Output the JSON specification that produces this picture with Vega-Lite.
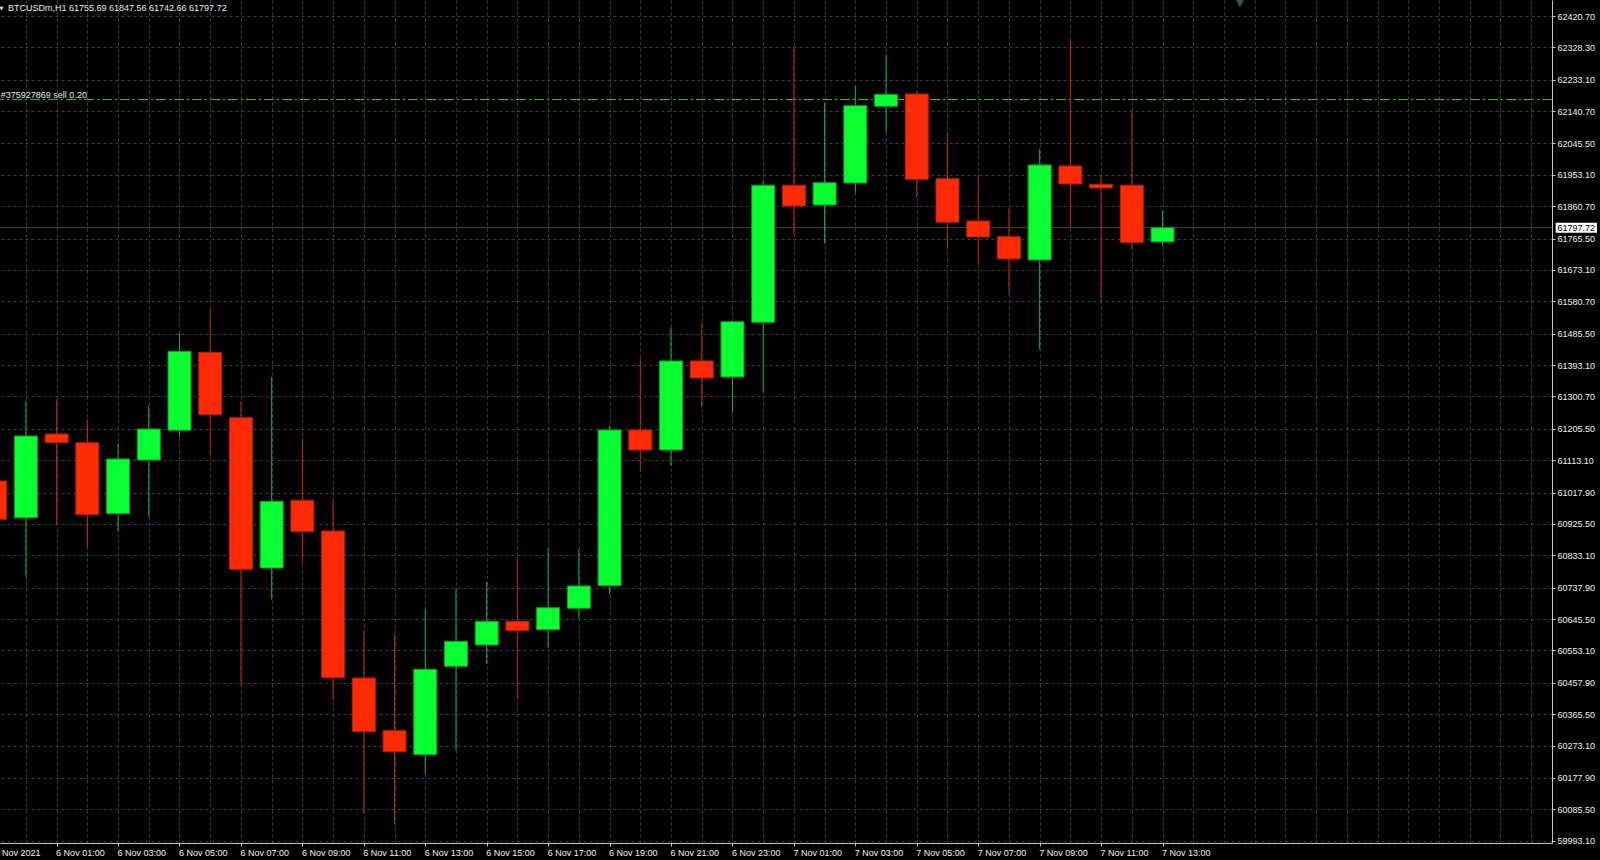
{
  "$schema": "https://vega.github.io/schema/vega-lite/v6.json",
  "width": 1552,
  "height": 843,
  "autosize": {"type": "none"},
  "padding": {"left": 0, "top": 0, "right": 48, "bottom": 17},
  "background": "#000000",
  "config": {"view": {"stroke": null}, "font": "Liberation Sans", "text": {"font": "Liberation Sans"}},
  "data": {
    "format": {"parse": {"time": "utc:'%Y-%m-%d %H:%M'"}},
    "values": [
      {"time": "2021-11-05 23:00", "open": 61051.9, "high": 61084.3, "low": 60907.7, "close": 60939.2},
      {"time": "2021-11-06 00:00", "open": 60943.9, "high": 61288.3, "low": 60768.5, "close": 61184.4},
      {"time": "2021-11-06 01:00", "open": 61190.3, "high": 61292.4, "low": 60922.4, "close": 61164.7},
      {"time": "2021-11-06 02:00", "open": 61164.7, "high": 61233.6, "low": 60856.8, "close": 60952.7},
      {"time": "2021-11-06 03:00", "open": 60955.7, "high": 61161.7, "low": 60903.9, "close": 61116.7},
      {"time": "2021-11-06 04:00", "open": 61113.7, "high": 61273.6, "low": 60946.8, "close": 61205.0},
      {"time": "2021-11-06 05:00", "open": 61201.2, "high": 61486.7, "low": 61181.5, "close": 61433.7},
      {"time": "2021-11-06 06:00", "open": 61430.8, "high": 61558.2, "low": 61126.4, "close": 61247.1},
      {"time": "2021-11-06 07:00", "open": 61238.3, "high": 61287.4, "low": 60449.4, "close": 60792.0},
      {"time": "2021-11-06 08:00", "open": 60795.8, "high": 61357.2, "low": 60703.7, "close": 60992.2},
      {"time": "2021-11-06 09:00", "open": 60995.1, "high": 61177.0, "low": 60809.1, "close": 60902.7},
      {"time": "2021-11-06 10:00", "open": 60904.8, "high": 60995.1, "low": 60408.2, "close": 60472.9},
      {"time": "2021-11-06 11:00", "open": 60472.0, "high": 60610.4, "low": 60073.8, "close": 60314.0},
      {"time": "2021-11-06 12:00", "open": 60316.9, "high": 60600.7, "low": 60042.3, "close": 60255.1},
      {"time": "2021-11-06 13:00", "open": 60246.3, "high": 60675.2, "low": 60189.5, "close": 60497.7},
      {"time": "2021-11-06 14:00", "open": 60506.5, "high": 60734.9, "low": 60258.0, "close": 60580.1},
      {"time": "2021-11-06 15:00", "open": 60569.2, "high": 60755.5, "low": 60514.1, "close": 60638.9},
      {"time": "2021-11-06 16:00", "open": 60638.9, "high": 60827.3, "low": 60410.2, "close": 60611.3},
      {"time": "2021-11-06 17:00", "open": 60614.2, "high": 60854.7, "low": 60560.3, "close": 60679.0},
      {"time": "2021-11-06 18:00", "open": 60677.2, "high": 60853.2, "low": 60646.6, "close": 60742.9},
      {"time": "2021-11-06 19:00", "open": 60743.7, "high": 61214.7, "low": 60719.3, "close": 61202.1},
      {"time": "2021-11-06 20:00", "open": 61202.1, "high": 61414.9, "low": 61079.3, "close": 61143.2},
      {"time": "2021-11-06 21:00", "open": 61143.2, "high": 61503.2, "low": 61096.1, "close": 61405.2},
      {"time": "2021-11-06 22:00", "open": 61405.2, "high": 61517.9, "low": 61269.8, "close": 61355.1},
      {"time": "2021-11-06 23:00", "open": 61358.1, "high": 61524.4, "low": 61253.0, "close": 61520.8},
      {"time": "2021-11-07 00:00", "open": 61519.1, "high": 61935.9, "low": 61313.0, "close": 61922.6},
      {"time": "2021-11-07 01:00", "open": 61922.4, "high": 62333.3, "low": 61776.1, "close": 61861.4},
      {"time": "2021-11-07 02:00", "open": 61864.4, "high": 62165.5, "low": 61751.6, "close": 61930.0},
      {"time": "2021-11-07 03:00", "open": 61929.1, "high": 62214.6, "low": 61900.6, "close": 62156.7},
      {"time": "2021-11-07 04:00", "open": 62154.9, "high": 62305.9, "low": 62076.3, "close": 62190.2},
      {"time": "2021-11-07 05:00", "open": 62191.1, "high": 62199.1, "low": 61885.9, "close": 61940.0},
      {"time": "2021-11-07 06:00", "open": 61941.8, "high": 62077.2, "low": 61738.7, "close": 61813.4},
      {"time": "2021-11-07 07:00", "open": 61817.3, "high": 61946.8, "low": 61689.8, "close": 61770.2},
      {"time": "2021-11-07 08:00", "open": 61771.1, "high": 61856.4, "low": 61599.4, "close": 61705.4},
      {"time": "2021-11-07 09:00", "open": 61702.5, "high": 62029.2, "low": 61439.6, "close": 61982.1},
      {"time": "2021-11-07 10:00", "open": 61979.2, "high": 62352.1, "low": 61800.5, "close": 61926.2},
      {"time": "2021-11-07 11:00", "open": 61925.3, "high": 61949.7, "low": 61581.8, "close": 61914.4},
      {"time": "2021-11-07 12:00", "open": 61922.4, "high": 62139.0, "low": 61735.7, "close": 61753.4},
      {"time": "2021-11-07 13:00", "open": 61755.69, "high": 61847.56, "low": 61742.66, "close": 61797.72}
    ]
  },
  "layer": [
    {
      "data": {"values": [{"price": 61797.72}]},
      "mark": {"type": "rule", "color": "#364b4b", "strokeWidth": 1},
      "encoding": {"y": {"field": "price", "type": "quantitative", "title": null, "scale": {"domain": [59986.3, 62467.8], "nice": false, "zero": false, "padding": 0}}}
    },
    {
      "data": {"values": [{"price": 62174.9}]},
      "mark": {"type": "rule", "color": "#28c028", "strokeWidth": 1, "strokeDash": [10, 3, 2, 3]},
      "encoding": {"y": {"field": "price", "type": "quantitative", "title": null, "scale": {"domain": [59986.3, 62467.8], "nice": false, "zero": false, "padding": 0}}}
    },
    {
      "mark": {"type": "rule", "strokeWidth": 1},
      "encoding": {
        "x": {
          "field": "time", "type": "temporal", "title": null,
          "scale": {"type": "utc", "padding": 0, "domain": [
            {"year": 2021, "month": 11, "date": 5, "hours": 23, "minutes": 9, "seconds": 25, "utc": true},
            {"year": 2021, "month": 11, "date": 8, "hours": 1, "minutes": 40, "seconds": 41, "utc": true}
          ]},
          "axis": {
            "orient": "bottom",
            "tickCount": 200,
            "values": [1636156800000, 1636160400000, 1636164000000, 1636167600000, 1636171200000, 1636174800000, 1636178400000, 1636182000000, 1636185600000, 1636189200000, 1636192800000, 1636196400000, 1636200000000, 1636203600000, 1636207200000, 1636210800000, 1636214400000, 1636218000000, 1636221600000, 1636225200000, 1636228800000, 1636232400000, 1636236000000, 1636239600000, 1636243200000, 1636246800000, 1636250400000, 1636254000000, 1636257600000, 1636261200000, 1636264800000, 1636268400000, 1636272000000, 1636275600000, 1636279200000, 1636282800000, 1636286400000, 1636290000000, 1636293600000, 1636297200000, 1636300800000, 1636304400000, 1636308000000, 1636311600000, 1636315200000, 1636318800000, 1636322400000, 1636326000000, 1636329600000, 1636333200000],
            "labelExpr": "time(datum.value) == 1636156800000 ? '5 Nov 2021' : (utchours(datum.value) % 2 == 1 && time(datum.value) <= 1636290000000 ? utcFormat(datum.value, '%-d %b %H:%M') : '')",
            "labelOffset": {"condition": {"test": "time(datum.value) == 1636156800000", "value": -32}, "value": -1},
            "grid": true, "gridColor": "#2f4848", "gridDash": [3, 3], "gridWidth": 1,
            "ticks": true, "tickSize": 3, "tickColor": "#c8c8c8",
            "tickOpacity": {"condition": {"test": "utchours(datum.value) % 2 == 1 && time(datum.value) <= 1636290000000", "value": 1}, "value": 0},
            "domain": true, "domainColor": "#c8c8c8", "domainWidth": 1,
            "labelColor": "#f0f0f0", "labelFont": "Liberation Sans", "labelFontSize": 9,
            "labelAlign": "left", "labelBaseline": "middle", "labelPadding": 6,
            "labelOverlap": false, "labelFlush": false, "labelBound": false, "title": null
          }
        },
        "y": {
          "field": "low", "type": "quantitative", "title": null,
          "scale": {"domain": [59986.3, 62467.8], "nice": false, "zero": false, "padding": 0},
          "axis": {
            "orient": "right",
            "tickCount": 200,
            "values": [62420.70, 62328.30, 62233.10, 62140.70, 62045.50, 61953.10, 61860.70, 61765.50, 61673.10, 61580.70, 61485.50, 61393.10, 61300.70, 61205.50, 61113.10, 61017.90, 60925.50, 60833.10, 60737.90, 60645.50, 60553.10, 60457.90, 60365.50, 60273.10, 60177.90, 60085.50, 59993.10],
            "format": ".2f",
            "grid": true, "gridColor": "#2f4848", "gridDash": [3, 3], "gridWidth": 1,
            "tickSize": 3, "tickColor": "#c8c8c8",
            "domain": true, "domainColor": "#c8c8c8", "domainWidth": 1,
            "labelColor": "#f0f0f0", "labelFont": "Liberation Sans", "labelFontSize": 9,
            "labelAlign": "left", "labelBaseline": "middle", "labelPadding": 2,
            "labelOverlap": false, "labelFlush": false, "labelBound": false, "title": null
          }
        },
        "y2": {"field": "high"},
        "color": {"condition": {"test": "datum.close >= datum.open", "value": "#14b82a"}, "value": "#d42208"}
      }
    },
    {
      "mark": {"type": "bar", "width": 23, "strokeWidth": 1},
      "encoding": {
        "x": {"field": "time", "type": "temporal", "title": null, "scale": {"type": "utc", "padding": 0, "domain": [
            {"year": 2021, "month": 11, "date": 5, "hours": 23, "minutes": 9, "seconds": 25, "utc": true},
            {"year": 2021, "month": 11, "date": 8, "hours": 1, "minutes": 40, "seconds": 41, "utc": true}
          ]}},
        "y": {"field": "open", "type": "quantitative", "title": null, "scale": {"domain": [59986.3, 62467.8], "nice": false, "zero": false, "padding": 0}},
        "y2": {"field": "close"},
        "fill": {"condition": {"test": "datum.close >= datum.open", "value": "#0aff32"}, "value": "#ff2a08"},
        "stroke": {"condition": {"test": "datum.close >= datum.open", "value": "#129a26"}, "value": "#b01e06"}
      }
    },
    {
      "data": {"format": {"parse": {"time": "utc:'%Y-%m-%d %H:%M'"}}, "values": [{"label": "#375927869 sell 0.20", "time": "2021-11-05 23:11", "price": 62174.9}]},
      "mark": {"type": "text", "align": "left", "baseline": "alphabetic", "dy": -1.5, "fontSize": 9, "font": "Liberation Sans", "color": "#e8e8e8"},
      "encoding": {
        "x": {"field": "time", "type": "temporal", "title": null, "scale": {"type": "utc", "padding": 0, "domain": [
            {"year": 2021, "month": 11, "date": 5, "hours": 23, "minutes": 9, "seconds": 25, "utc": true},
            {"year": 2021, "month": 11, "date": 8, "hours": 1, "minutes": 40, "seconds": 41, "utc": true}
          ]}},
        "y": {"field": "price", "type": "quantitative", "title": null, "scale": {"domain": [59986.3, 62467.8], "nice": false, "zero": false, "padding": 0}},
        "text": {"field": "label"}
      }
    },
    {
      "data": {"format": {"parse": {"time": "utc:'%Y-%m-%d %H:%M'"}}, "values": [{"label": "BTCUSDm,H1  61755.69 61847.56 61742.66 61797.72", "time": "2021-11-05 23:25", "price": 62436.3}]},
      "mark": {"type": "text", "align": "left", "baseline": "alphabetic", "fontSize": 9, "font": "Liberation Sans", "color": "#ececec"},
      "encoding": {
        "x": {"field": "time", "type": "temporal", "title": null, "scale": {"type": "utc", "padding": 0, "domain": [
            {"year": 2021, "month": 11, "date": 5, "hours": 23, "minutes": 9, "seconds": 25, "utc": true},
            {"year": 2021, "month": 11, "date": 8, "hours": 1, "minutes": 40, "seconds": 41, "utc": true}
          ]}},
        "y": {"field": "price", "type": "quantitative", "title": null, "scale": {"domain": [59986.3, 62467.8], "nice": false, "zero": false, "padding": 0}},
        "text": {"field": "label"}
      }
    },
    {
      "data": {"format": {"parse": {"time": "utc:'%Y-%m-%d %H:%M'"}}, "values": [{"label": "▼", "time": "2021-11-05 23:12", "price": 62445.7}]},
      "mark": {"type": "text", "align": "center", "baseline": "middle", "fontSize": 5, "font": "DejaVu Sans", "color": "#ececec"},
      "encoding": {
        "x": {"field": "time", "type": "temporal", "title": null, "scale": {"type": "utc", "padding": 0, "domain": [
            {"year": 2021, "month": 11, "date": 5, "hours": 23, "minutes": 9, "seconds": 25, "utc": true},
            {"year": 2021, "month": 11, "date": 8, "hours": 1, "minutes": 40, "seconds": 41, "utc": true}
          ]}},
        "y": {"field": "price", "type": "quantitative", "title": null, "scale": {"domain": [59986.3, 62467.8], "nice": false, "zero": false, "padding": 0}},
        "text": {"field": "label"}
      }
    },
    {
      "data": {"format": {"parse": {"time": "utc:'%Y-%m-%d %H:%M'"}}, "values": [{"label": "▼", "time": "2021-11-07 15:31", "price": 62449.0}]},
      "mark": {"type": "text", "align": "center", "baseline": "alphabetic", "fontSize": 12, "font": "DejaVu Sans", "color": "#2d5858"},
      "encoding": {
        "x": {"field": "time", "type": "temporal", "title": null, "scale": {"type": "utc", "padding": 0, "domain": [
            {"year": 2021, "month": 11, "date": 5, "hours": 23, "minutes": 9, "seconds": 25, "utc": true},
            {"year": 2021, "month": 11, "date": 8, "hours": 1, "minutes": 40, "seconds": 41, "utc": true}
          ]}},
        "y": {"field": "price", "type": "quantitative", "title": null, "scale": {"domain": [59986.3, 62467.8], "nice": false, "zero": false, "padding": 0}},
        "text": {"field": "label"}
      }
    },
    {
      "data": {"values": [{"price": 61797.72, "label": "61797.72"}]},
      "mark": {"type": "bar", "height": 10, "color": "#ffffff"},
      "encoding": {
        "x": {"datum": {"year": 2021, "month": 11, "date": 8, "hours": 1, "minutes": 47, "seconds": 53, "utc": true}, "type": "temporal", "scale": {"type": "utc", "padding": 0, "domain": [
            {"year": 2021, "month": 11, "date": 5, "hours": 23, "minutes": 9, "seconds": 25, "utc": true},
            {"year": 2021, "month": 11, "date": 8, "hours": 1, "minutes": 40, "seconds": 41, "utc": true}
          ]}},
        "x2": {"datum": {"year": 2021, "month": 11, "date": 8, "hours": 3, "minutes": 8, "seconds": 35, "utc": true}},
        "y": {"field": "price", "type": "quantitative", "title": null, "scale": {"domain": [59986.3, 62467.8], "nice": false, "zero": false, "padding": 0}}
      }
    },
    {
      "data": {"values": [{"price": 61797.72, "label": "61797.72"}]},
      "mark": {"type": "text", "align": "left", "baseline": "middle", "fontSize": 9, "font": "Liberation Sans", "color": "#000000"},
      "encoding": {
        "x": {"datum": {"year": 2021, "month": 11, "date": 8, "hours": 1, "minutes": 51, "seconds": 26, "utc": true}, "type": "temporal", "scale": {"type": "utc", "padding": 0, "domain": [
            {"year": 2021, "month": 11, "date": 5, "hours": 23, "minutes": 9, "seconds": 25, "utc": true},
            {"year": 2021, "month": 11, "date": 8, "hours": 1, "minutes": 40, "seconds": 41, "utc": true}
          ]}},
        "y": {"field": "price", "type": "quantitative", "title": null, "scale": {"domain": [59986.3, 62467.8], "nice": false, "zero": false, "padding": 0}},
        "text": {"field": "label"}
      }
    }
  ]
}
